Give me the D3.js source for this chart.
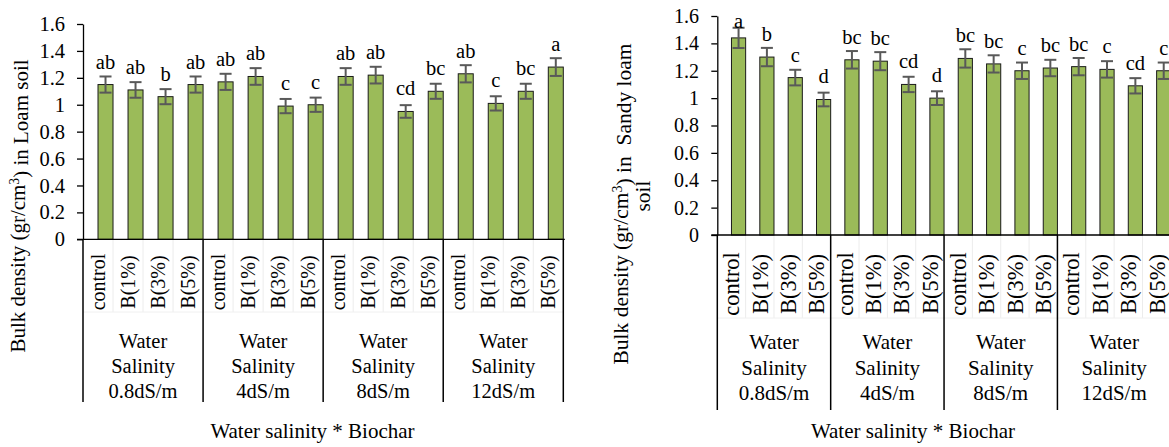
<!DOCTYPE html>
<html>
<head>
<meta charset="utf-8">
<script src="https://cdn.jsdelivr.net/npm/d3@7"></script>
<style>
  html, body { margin: 0; padding: 0; background: #fff; }
  svg { display: block; }
  text { font-family: "Liberation Serif", "Times New Roman", serif; fill: #000; }
</style>
</head>
<body>
<svg id="chart" width="1169" height="447"></svg>
<script>
// ---- data ----
const treatments = ["control", "B(1%)", "B(3%)", "B(5%)"];
const salinityLevels = ["0.8dS/m", "4dS/m", "8dS/m", "12dS/m"];
const groupHeading = ["Water", "Salinity"];
const yTickValues = [0, 0.2, 0.4, 0.6, 0.8, 1, 1.2, 1.4, 1.6];
const yTickLabels = ["0", "0.2", "0.4", "0.6", "0.8", "1", "1.2", "1.4", "1.6"];

// Loam soil: bulk density per salinity x biochar treatment
const loamValues = [1.15, 1.11, 1.06, 1.15, 1.17, 1.21, 0.99, 1.00, 1.21, 1.22, 0.95, 1.10, 1.23, 1.01, 1.10, 1.28];
const loamErrors = [0.060, 0.058, 0.056, 0.060, 0.060, 0.062, 0.053, 0.053, 0.062, 0.062, 0.047, 0.056, 0.064, 0.053, 0.056, 0.066];
const loamLetters = ["ab", "ab", "b", "ab", "ab", "ab", "c", "c", "ab", "ab", "cd", "bc", "ab", "c", "bc", "a"];

// Sandy loam soil
const sandyValues = [1.44, 1.30, 1.15, 0.99, 1.28, 1.27, 1.10, 1.00, 1.29, 1.25, 1.20, 1.22, 1.23, 1.21, 1.09, 1.20];
const sandyErrors = [0.074, 0.067, 0.057, 0.050, 0.064, 0.066, 0.056, 0.050, 0.067, 0.063, 0.060, 0.060, 0.063, 0.060, 0.056, 0.060];
const sandyLetters = ["a", "b", "c", "d", "bc", "bc", "cd", "d", "bc", "bc", "c", "bc", "bc", "c", "cd", "c"];

const xTitle = "Water salinity * Biochar";
const loamTitle = "Loam soil";
const sandyTitle = ["Sandy loam", "soil"];

const BAR_FILL = "#9BBB59";
const ERR_COLOR = "#595959";
const FONT = "Liberation Serif, Times New Roman, serif";

const svg = d3.select("#chart");
svg.append("rect").attr("width", 1169).attr("height", 447).attr("fill", "#fff");

function keyOf(s, t) { return s + "|" + t; }
const categoryKeys = salinityLevels.flatMap(s => treatments.map(t => keyOf(s, t)));

function drawPanel(o) {
  const g = svg.append("g").attr("font-family", FONT);
  const x = d3.scaleBand().domain(categoryKeys).range([o.x0, o.x1]).padding(0);
  const y = d3.scaleLinear().domain([0, 1.6]).range([o.yBottom, o.yTop]);
  const bw = x.bandwidth();

  const rows = categoryKeys.map((k, i) => ({ key: k, v: o.values[i], e: o.errors[i], letter: o.letters[i] }));

  // faint level-one tick marks and level separator
  g.selectAll("line.slot").data(categoryKeys.filter((k, i) => i % treatments.length !== 0))
    .join("line").attr("class", "slot")
    .attr("x1", d => x(d)).attr("x2", d => x(d))
    .attr("y1", y(0)).attr("y2", o.levelSep)
    .attr("stroke", "#ececec").attr("stroke-width", 1);
  g.append("line")
    .attr("x1", o.x0).attr("x2", o.x1).attr("y1", o.levelSep).attr("y2", o.levelSep)
    .attr("stroke", "#f0f0f0").attr("stroke-width", 1);

  // bars occupy the right half of each category slot
  g.selectAll("rect.bar").data(rows).join("rect").attr("class", "bar")
    .attr("x", d => x(d.key) + bw / 2)
    .attr("width", bw / 2)
    .attr("y", d => y(d.v))
    .attr("height", d => y(0) - y(d.v))
    .attr("fill", BAR_FILL)
    .attr("stroke", "#1a1a1a").attr("stroke-width", 1);

  // error bars
  const cx = d => x(d.key) + bw * 0.75;
  const cap = 6;
  const eg = g.selectAll("g.err").data(rows).join("g").attr("class", "err")
    .attr("stroke", ERR_COLOR).attr("stroke-width", 2);
  eg.append("line").attr("x1", cx).attr("x2", cx)
    .attr("y1", d => y(d.v + d.e)).attr("y2", d => y(d.v - d.e));
  eg.append("line").attr("x1", d => cx(d) - cap).attr("x2", d => cx(d) + cap)
    .attr("y1", d => y(d.v + d.e)).attr("y2", d => y(d.v + d.e));
  eg.append("line").attr("x1", d => cx(d) - cap).attr("x2", d => cx(d) + cap)
    .attr("y1", d => y(d.v - d.e)).attr("y2", d => y(d.v - d.e));

  // significance letters
  g.selectAll("text.letter").data(rows).join("text").attr("class", "letter")
    .attr("x", cx)
    .attr("y", d => Math.max(y(d.v) - 16, y(1.6) + 12.3))
    .attr("text-anchor", "middle")
    .attr("font-size", o.letterSize)
    .text(d => d.letter);

  // y axis
  const yAxis = d3.axisLeft(y).tickValues(yTickValues)
    .tickFormat((d, i) => yTickLabels[i])
    .tickSize(6).tickSizeOuter(0).tickPadding(o.tickPad);
  const ya = g.append("g").attr("transform", `translate(${o.x0},0)`).call(yAxis)
    .attr("font-family", FONT);
  ya.select(".domain").attr("stroke", "#000").attr("stroke-width", 1.3);
  ya.selectAll(".tick line").attr("stroke", "#000").attr("stroke-width", 1.3);
  ya.selectAll(".tick text").attr("font-size", o.tickSize).attr("fill", "#000");

  // category baseline
  g.append("line")
    .attr("x1", o.x0 - 6).attr("x2", o.x1 + 1.5)
    .attr("y1", y(0)).attr("y2", y(0))
    .attr("stroke", "#000").attr("stroke-width", 1.3);

  // group dividers
  const dividers = salinityLevels.map(s => x(keyOf(s, treatments[0]))).concat([o.x1]);
  g.selectAll("line.div").data(dividers).join("line").attr("class", "div")
    .attr("x1", d => d).attr("x2", d => d)
    .attr("y1", y(0)).attr("y2", o.divEnd)
    .attr("stroke", "#000").attr("stroke-width", 1.5);

  // rotated treatment labels
  g.selectAll("text.cat").data(categoryKeys).join("text").attr("class", "cat")
    .attr("transform", d => `translate(${x(d) + bw / 2},${o.catMid}) rotate(-90)`)
    .attr("text-anchor", "middle").attr("dy", "0.35em")
    .attr("font-size", o.catSize)
    .text(d => d.split("|")[1]);

  // salinity group labels
  salinityLevels.forEach((s, i) => {
    const gx = (dividers[i] + dividers[i + 1]) / 2;
    groupHeading.concat([s]).forEach((line, j) => {
      g.append("text").attr("x", gx).attr("y", o.groupBase[j])
        .attr("text-anchor", "middle").attr("font-size", o.groupSize).text(line);
    });
  });

  // x title
  g.append("text").attr("x", o.xTitleX).attr("y", 438)
    .attr("text-anchor", "middle").attr("font-size", 21).text(xTitle);

  return g;
}

function bulkTitle(g, tx, ty, size, tail) {
  const t = g.append("text")
    .attr("transform", `translate(${tx},${ty}) rotate(-90)`)
    .attr("text-anchor", "middle").attr("font-size", size)
    .style("white-space", "pre");
  t.append("tspan").text("Bulk density (gr/cm");
  t.append("tspan").attr("dy", "-0.42em").attr("font-size", size * 0.65).text("3");
  t.append("tspan").attr("dy", "0.42em").text(tail);
  return t;
}

// Loam soil panel
const left = drawPanel({
  values: loamValues, errors: loamErrors, letters: loamLetters,
  x0: 83, x1: 563.3, yTop: 24, yBottom: 239.3,
  tickPad: 12, tickSize: 20.5, letterSize: 20.5,
  catMid: 282, catSize: 20, levelSep: 312, divEnd: 402,
  groupBase: [347.7, 372.7, 397.7], groupSize: 20.5,
  xTitleX: 312.5
});
bulkTitle(left, 25, 206, 21, ") in " + loamTitle);

// Sandy loam soil panel
const right = drawPanel({
  values: sandyValues, errors: sandyErrors, letters: sandyLetters,
  x0: 717.3, x1: 1170.8, yTop: 16, yBottom: 235,
  tickPad: 12.3, tickSize: 20, letterSize: 20.5,
  catMid: 284, catSize: 22.5, levelSep: 318, divEnd: 410,
  groupBase: [349, 374.5, 399.5], groupSize: 21,
  xTitleX: 913
});
bulkTitle(right, 628, 204, 21.5, ") in  " + sandyTitle[0]);
right.append("text")
  .attr("transform", "translate(650,196) rotate(-90)")
  .attr("text-anchor", "middle").attr("font-size", 21.5)
  .text(sandyTitle[1]);
</script>
</body>
</html>
